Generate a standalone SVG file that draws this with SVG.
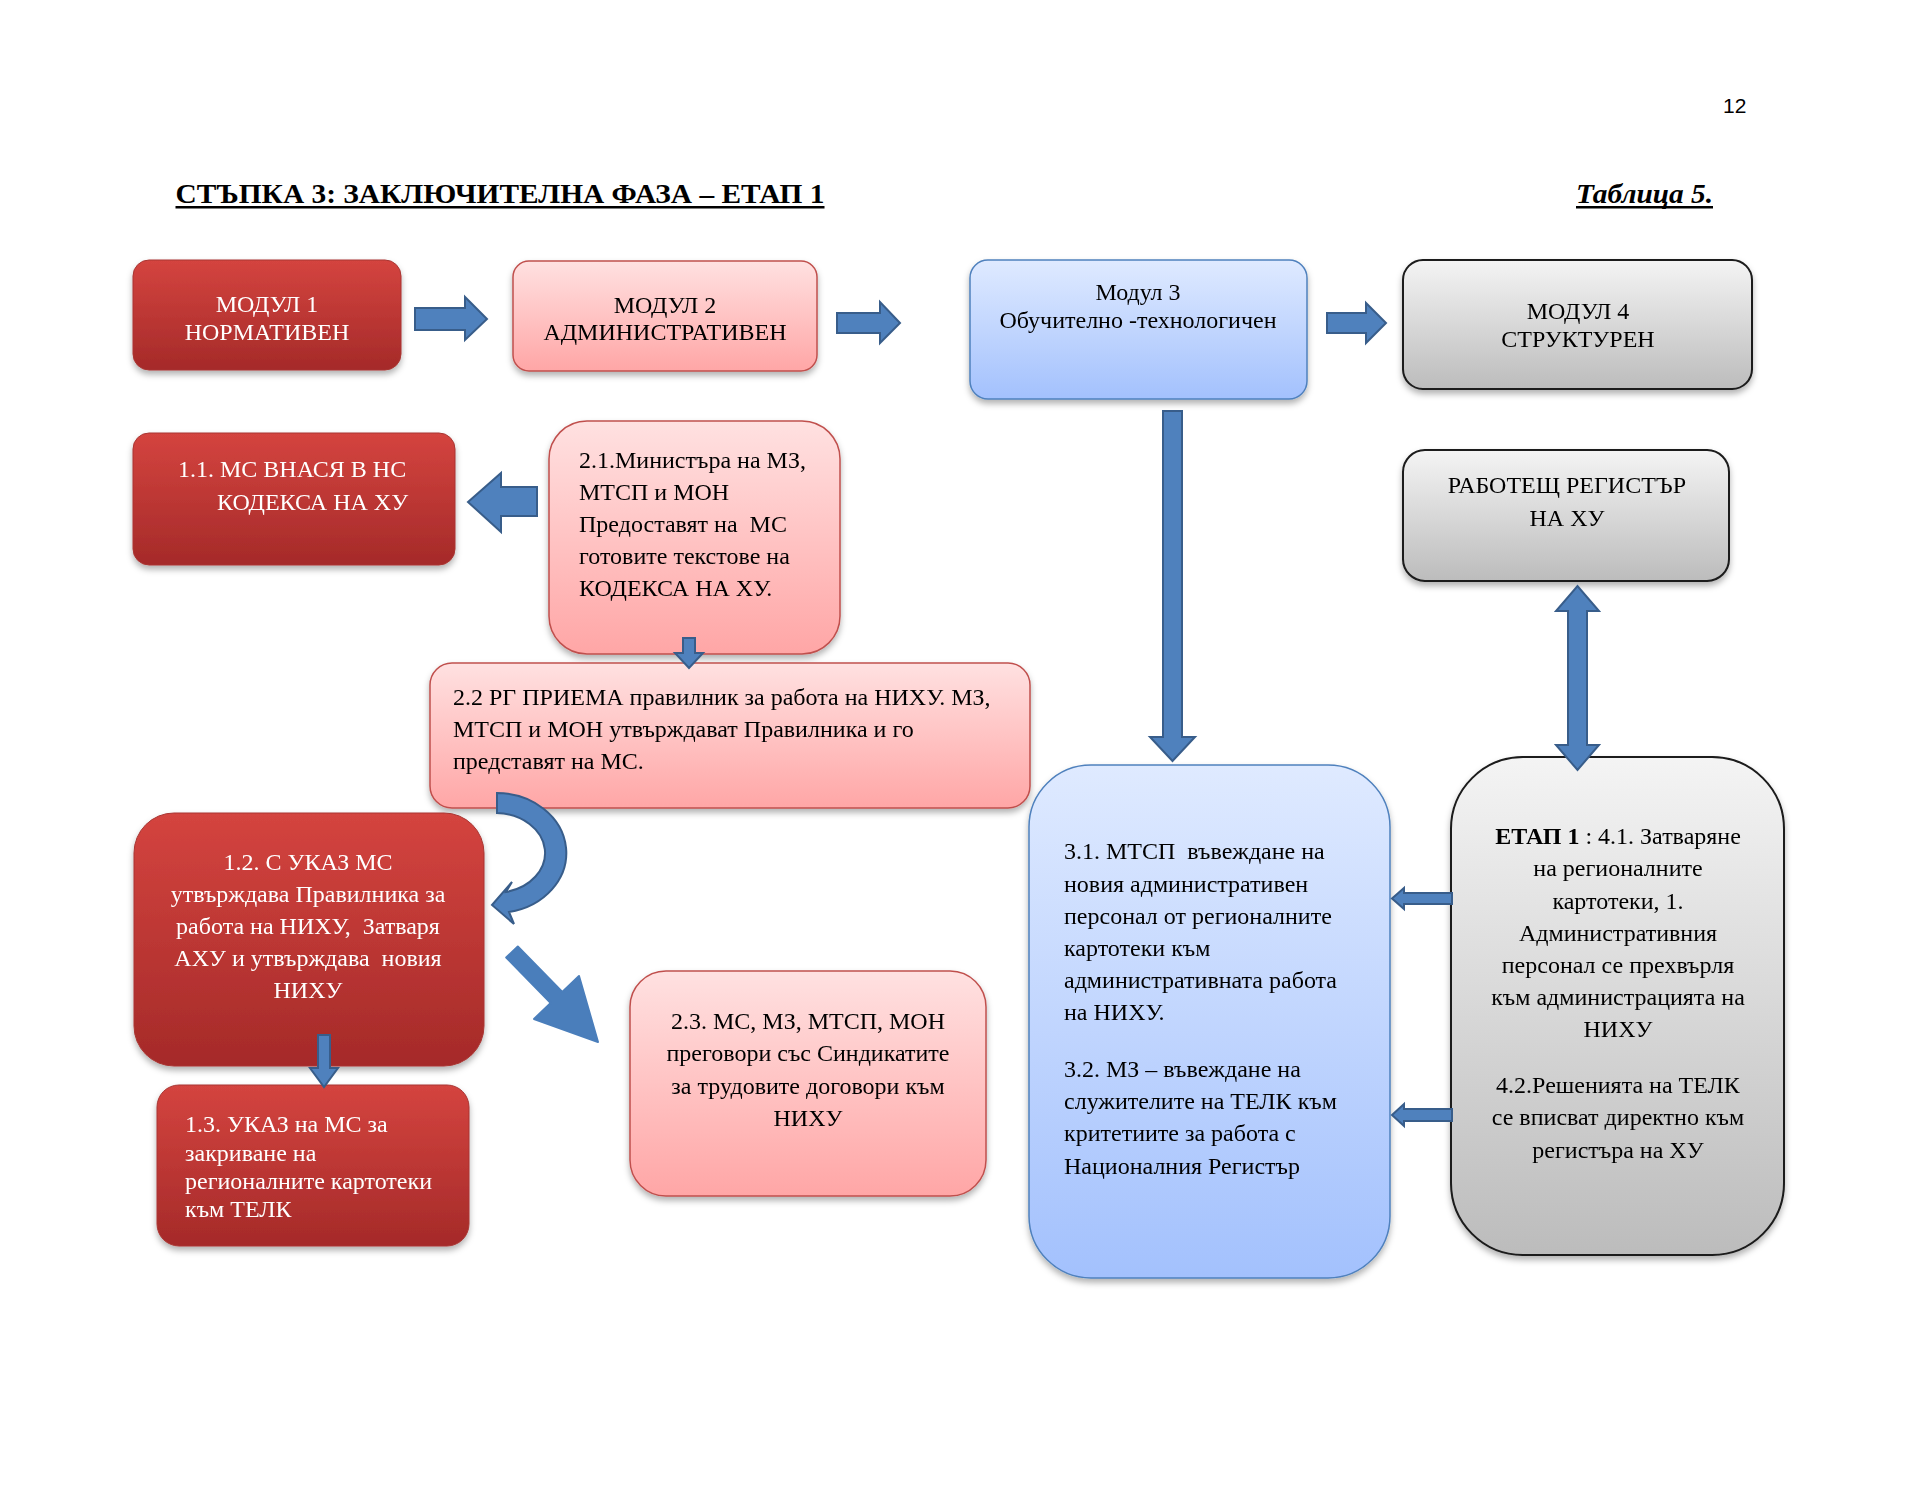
<svg xmlns="http://www.w3.org/2000/svg" width="1925" height="1488" viewBox="0 0 1925 1488">
<defs>
<linearGradient id="gRed" x1="0" y1="0" x2="0" y2="1"><stop offset="0" stop-color="#d4443f"/><stop offset="1" stop-color="#a52a29"/></linearGradient>
<linearGradient id="gPink" x1="0" y1="0" x2="0" y2="1"><stop offset="0" stop-color="#ffe1e1"/><stop offset="1" stop-color="#ffa6a6"/></linearGradient>
<linearGradient id="gBlue" x1="0" y1="0" x2="0" y2="1"><stop offset="0" stop-color="#dfeaff"/><stop offset="1" stop-color="#a3c1fd"/></linearGradient>
<linearGradient id="gGray" x1="0" y1="0" x2="0" y2="1"><stop offset="0" stop-color="#f4f4f4"/><stop offset="1" stop-color="#bcbcbc"/></linearGradient>
<filter id="sh" x="-10%" y="-10%" width="120%" height="130%"><feDropShadow dx="0" dy="4" stdDeviation="3" flood-color="#000" flood-opacity="0.3"/></filter>
</defs>
<style>
.t{font-family:"Liberation Serif","Times New Roman",serif;font-size:24px;fill:#000}
.w{fill:#fff}
.c{text-anchor:middle}
.red{fill:url(#gRed);stroke:#a83532;stroke-width:1}
.pink{fill:url(#gPink);stroke:#c0504d;stroke-width:1.5}
.blue{fill:url(#gBlue);stroke:#4f81bd;stroke-width:1.5}
.gray{fill:url(#gGray);stroke:#1a1a1a;stroke-width:2}
.arr{fill:#4f81bd;stroke:#385d8a;stroke-width:2;stroke-linejoin:miter}
.arr2{fill:#4a7ebb;stroke:#4a7ebb;stroke-width:2;stroke-linejoin:round}
</style>
<rect width="1925" height="1488" fill="#fff"/>

<g id="header">
<text x="175.5" y="202.5" font-family="Liberation Serif, serif" font-weight="bold" font-size="28" textLength="649" lengthAdjust="spacingAndGlyphs">СТЪПКА 3: ЗАКЛЮЧИТЕЛНА ФАЗА – ЕТАП 1</text>
<rect x="175.5" y="206" width="649" height="2.5" fill="#000"/>
<text x="1576" y="202.5" font-family="Liberation Serif, serif" font-weight="bold" font-style="italic" font-size="28" textLength="137" lengthAdjust="spacingAndGlyphs">Таблица 5.</text>
<rect x="1576" y="206" width="137" height="2.5" fill="#000"/>
<text x="1723" y="113" font-family="Liberation Sans, Arial, sans-serif" font-size="21">12</text>
</g>

<g id="m1" filter="url(#sh)"><rect class="red" x="133" y="260" width="268" height="110" rx="16"/>
<text class="t w c" x="267" y="312" font-size="25">МОДУЛ 1</text><text class="t w c" x="267" y="340" font-size="25">НОРМАТИВЕН</text></g>

<g id="m2" filter="url(#sh)"><rect class="pink" x="513" y="261" width="304" height="110" rx="16"/>
<text class="t c" x="665" y="313" font-size="25">МОДУЛ 2</text><text class="t c" x="665" y="340" font-size="25">АДМИНИСТРАТИВЕН</text></g>

<g id="m3" filter="url(#sh)"><rect class="blue" x="970" y="260" width="337" height="139" rx="18"/>
<text class="t c" x="1138" y="300">Модул 3</text><text class="t c" x="1138" y="328">Обучително -технологичен</text></g>

<g id="m4" filter="url(#sh)"><rect class="gray" x="1403" y="260" width="349" height="129" rx="20"/>
<text class="t c" x="1578" y="319">МОДУЛ 4</text><text class="t c" x="1578" y="347">СТРУКТУРЕН</text></g>

<g id="n11" filter="url(#sh)"><rect class="red" x="133" y="433" width="322" height="132" rx="16"/>
<text class="t w" x="178" y="477">1.1. МС ВНАСЯ В НС</text><text class="t w" x="217" y="510">КОДЕКСА НА ХУ</text></g>

<g id="n21" filter="url(#sh)"><rect class="pink" x="549" y="421" width="291" height="233" rx="38"/>
<text class="t" x="579" y="468">2.1.Министъра на МЗ,</text>
<text class="t" x="579" y="500">МТСП и МОН</text>
<text class="t" x="579" y="532" xml:space="preserve">Предоставят на  МС</text>
<text class="t" x="579" y="564">готовите текстове на</text>
<text class="t" x="579" y="596">КОДЕКСА НА ХУ.</text></g>

<g id="n22" filter="url(#sh)"><rect class="pink" x="430" y="663" width="600" height="145" rx="22"/>
<text class="t" x="453" y="705">2.2 РГ ПРИЕМА правилник за работа на НИХУ. МЗ,</text>
<text class="t" x="453" y="737">МТСП и МОН утвърждават Правилника и го</text>
<text class="t" x="453" y="769">представят на МС.</text></g>

<g id="reg" filter="url(#sh)"><rect class="gray" x="1403" y="450" width="326" height="131" rx="22"/>
<text class="t c" x="1567" y="493">РАБОТЕЩ РЕГИСТЪР</text><text class="t c" x="1567" y="526">НА ХУ</text></g>

<g id="n12" filter="url(#sh)"><rect class="red" x="134" y="813" width="350" height="253" rx="40"/>
<text class="t w c" x="308" y="870">1.2. С УКАЗ МС</text>
<text class="t w c" x="308" y="902">утвърждава Правилника за</text>
<text class="t w c" x="308" y="934" xml:space="preserve">работа на НИХУ,  Затваря</text>
<text class="t w c" x="308" y="966" xml:space="preserve">АХУ и утвърждава  новия</text>
<text class="t w c" x="308" y="998">НИХУ</text></g>

<g id="n13" filter="url(#sh)"><rect class="red" x="157" y="1085" width="312" height="161" rx="22"/>
<text class="t w" x="185" y="1132" font-size="23">1.3. УКАЗ на МС за</text>
<text class="t w" x="185" y="1161" font-size="23">закриване на</text>
<text class="t w" x="185" y="1189" font-size="23">регионалните картотеки</text>
<text class="t w" x="185" y="1217" font-size="23">към ТЕЛК</text></g>

<g id="n23" filter="url(#sh)"><rect class="pink" x="630" y="971" width="356" height="225" rx="36"/>
<text class="t c" x="808" y="1029">2.3. МС, МЗ, МТСП, МОН</text>
<text class="t c" x="808" y="1061">преговори със Синдикатите</text>
<text class="t c" x="808" y="1094">за трудовите договори към</text>
<text class="t c" x="808" y="1126">НИХУ</text></g>

<g id="n3x" filter="url(#sh)"><rect class="blue" x="1029" y="765" width="361" height="513" rx="62"/>
<text class="t" x="1064" y="859" xml:space="preserve">3.1. МТСП  въвеждане на</text>
<text class="t" x="1064" y="892">новия административен</text>
<text class="t" x="1064" y="924">персонал от регионалните</text>
<text class="t" x="1064" y="956">картотеки към</text>
<text class="t" x="1064" y="988">административната работа</text>
<text class="t" x="1064" y="1020">на НИХУ.</text>
<text class="t" x="1064" y="1077">3.2. МЗ – въвеждане на</text>
<text class="t" x="1064" y="1109">служителите на ТЕЛК към</text>
<text class="t" x="1064" y="1141">критетиите за работа с</text>
<text class="t" x="1064" y="1174">Националния Регистър</text></g>

<g id="n4x" filter="url(#sh)"><rect class="gray" x="1451" y="757" width="333" height="498" rx="72"/>
<text class="t c" x="1618" y="844"><tspan font-weight="bold">ЕТАП 1</tspan> : 4.1. Затваряне</text>
<text class="t c" x="1618" y="876">на регионалните</text>
<text class="t c" x="1618" y="909">картотеки, 1.</text>
<text class="t c" x="1618" y="941">Административния</text>
<text class="t c" x="1618" y="973">персонал се прехвърля</text>
<text class="t c" x="1618" y="1005">към администрацията на</text>
<text class="t c" x="1618" y="1037">НИХУ</text>
<text class="t c" x="1618" y="1093">4.2.Решенията на ТЕЛК</text>
<text class="t c" x="1618" y="1125">се вписват директно към</text>
<text class="t c" x="1618" y="1158">регистъра на ХУ</text></g>

<g id="connectors">
<polygon class="arr" points="415,308 465,308 465,297 487,319 465,340 465,330 415,330"/>
<polygon class="arr" points="837,313 880,313 880,302 900,323 880,343 880,333 837,333"/>
<polygon class="arr" points="1327,313 1366,313 1366,303 1386,323 1366,343 1366,333 1327,333"/>
<polygon class="arr" points="537,487 501,487 501,473 468,502 501,532 501,516 537,516"/>
<polygon class="arr" points="683,638 695,638 695,653 703,653 689,668 675,653 683,653"/>
<polygon class="arr" points="1163,411 1182,411 1182,737 1195,737 1172.5,761 1150,737 1163,737"/>
<polygon class="arr" points="1568,610 1568,611 1556,611 1577.5,586 1599,611 1587,611 1587,745 1599,745 1577.5,770 1556,745 1568,745"/>
<polygon class="arr" points="318,1035 330,1035 330,1068 338,1068 324,1087 310,1068 318,1068"/>
<polygon class="arr" points="1452,893 1404,893 1404,888 1392,898.5 1404,909 1404,904 1452,904"/>
<polygon class="arr" points="1452,1109 1404,1109 1404,1104 1392,1115 1404,1126 1404,1121 1452,1121"/>
<path class="arr" d="M497,793 A70,60 0 0 1 509,912 L514,924 L492,905 L512,882 L506,892 A50,40 0 0 0 497,813 Z"/>
<polygon class="arr2" points="517.8,946.5 562.3,992 579,976 598,1042 534,1019 550.7,1003 506.2,957.5"/>
</g>
</svg>
